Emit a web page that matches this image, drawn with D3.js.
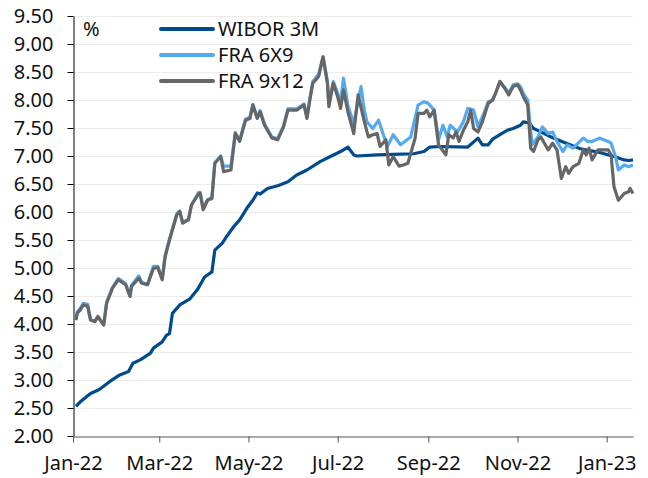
<!DOCTYPE html>
<html>
<head>
<meta charset="utf-8">
<script src="https://cdn.jsdelivr.net/npm/d3@7"></script>
<style>
  body { margin: 0; background: #fff; }
  svg text { font-family: "Noto Sans", sans-serif; fill: #111; }
</style>
</head>
<body>
<div id="container"></div>
<script>
'use strict';

var yTicks = [2.0, 2.5, 3.0, 3.5, 4.0, 4.5, 5.0, 5.5, 6.0, 6.5, 7.0, 7.5, 8.0, 8.5, 9.0, 9.5]
var xTicks = ['2022-01-01', '2022-03-01', '2022-05-01', '2022-07-01', '2022-09-01', '2022-11-01', '2023-01-01']
var seriesNames = ['WIBOR 3M', 'FRA 6X9', 'FRA 9x12']

var wibor3m = [
    ['2022-01-03', 2.53], ['2022-01-06', 2.61], ['2022-01-13', 2.76], ['2022-01-19', 2.83],
    ['2022-01-26', 2.97], ['2022-02-02', 3.09], ['2022-02-08', 3.15], ['2022-02-11', 3.30],
    ['2022-02-16', 3.36], ['2022-02-23', 3.48], ['2022-02-25', 3.57], ['2022-03-03', 3.68],
    ['2022-03-06', 3.80], ['2022-03-08', 3.83], ['2022-03-10', 4.19], ['2022-03-15', 4.34],
    ['2022-03-22', 4.45], ['2022-03-27', 4.61], ['2022-04-01', 4.84], ['2022-04-06', 4.93],
    ['2022-04-08', 5.32], ['2022-04-13', 5.44], ['2022-04-16', 5.56], ['2022-04-21', 5.74],
    ['2022-04-25', 5.86], ['2022-04-30', 6.07], ['2022-05-04', 6.21], ['2022-05-07', 6.34],
    ['2022-05-09', 6.32], ['2022-05-14', 6.42], ['2022-05-21', 6.47], ['2022-05-28', 6.54],
    ['2022-06-03', 6.66], ['2022-06-10', 6.75], ['2022-06-19', 6.90], ['2022-06-26', 6.99],
    ['2022-07-03', 7.08], ['2022-07-08', 7.16], ['2022-07-12', 7.02], ['2022-07-14', 7.00],
    ['2022-07-28', 7.02], ['2022-08-08', 7.03], ['2022-08-22', 7.04], ['2022-08-29', 7.08],
    ['2022-09-02', 7.16], ['2022-09-09', 7.17], ['2022-09-28', 7.16], ['2022-10-05', 7.32],
    ['2022-10-08', 7.20], ['2022-10-12', 7.20], ['2022-10-15', 7.30], ['2022-10-20', 7.38],
    ['2022-10-25', 7.46], ['2022-10-29', 7.49], ['2022-11-03', 7.55], ['2022-11-05', 7.61],
    ['2022-11-09', 7.59], ['2022-11-12', 7.49], ['2022-11-17', 7.43], ['2022-11-24', 7.34],
    ['2022-12-03', 7.24], ['2022-12-14', 7.13], ['2022-12-26', 7.07], ['2023-01-06', 6.99],
    ['2023-01-13', 6.93], ['2023-01-16', 6.92], ['2023-01-19', 6.93]
]

var fra6x9 = [
    ['2022-01-03', 4.09], ['2022-01-04', 4.22], ['2022-01-06', 4.28], ['2022-01-08', 4.37],
    ['2022-01-11', 4.35], ['2022-01-13', 4.08], ['2022-01-16', 4.05], ['2022-01-18', 4.14],
    ['2022-01-22', 3.99], ['2022-01-24', 4.39], ['2022-01-28', 4.65], ['2022-02-01', 4.81],
    ['2022-02-06', 4.72], ['2022-02-09', 4.50], ['2022-02-10', 4.69], ['2022-02-15', 4.86],
    ['2022-02-17', 4.74], ['2022-02-21', 4.71], ['2022-02-25', 5.03], ['2022-02-28', 5.03],
    ['2022-03-03', 4.80], ['2022-03-05', 5.22], ['2022-03-08', 5.52], ['2022-03-13', 5.97],
    ['2022-03-15', 6.02], ['2022-03-17', 5.81], ['2022-03-21', 5.88], ['2022-03-23', 6.13],
    ['2022-03-28', 6.35], ['2022-03-29', 6.35], ['2022-03-31', 6.06], ['2022-04-03', 6.22],
    ['2022-04-06', 6.26], ['2022-04-08', 6.88], ['2022-04-12', 7.00], ['2022-04-14', 6.82],
    ['2022-04-19', 6.82], ['2022-04-22', 7.42], ['2022-04-25', 7.28], ['2022-04-29', 7.66],
    ['2022-05-02', 7.69], ['2022-05-04', 7.92], ['2022-05-07', 7.69], ['2022-05-09', 7.81],
    ['2022-05-12', 7.57], ['2022-05-17', 7.34], ['2022-05-21', 7.31], ['2022-05-25', 7.54],
    ['2022-05-28', 7.84], ['2022-06-03', 7.84], ['2022-06-08', 7.93], ['2022-06-10', 7.70],
    ['2022-06-12', 8.03], ['2022-06-14', 8.33], ['2022-06-18', 8.46], ['2022-06-21', 8.77],
    ['2022-06-24', 8.34], ['2022-06-25', 7.93], ['2022-06-28', 8.33], ['2022-07-01', 8.12],
    ['2022-07-03', 7.95], ['2022-07-05', 8.39], ['2022-07-08', 7.90], ['2022-07-12', 7.58],
    ['2022-07-17', 8.24], ['2022-07-19', 7.85], ['2022-07-21', 7.61], ['2022-07-25', 7.49],
    ['2022-07-29', 7.64], ['2022-08-01', 7.40], ['2022-08-04', 7.17], ['2022-08-08', 7.38],
    ['2022-08-13', 7.20], ['2022-08-20', 7.34], ['2022-08-25', 7.91], ['2022-08-29', 7.97],
    ['2022-09-01', 7.94], ['2022-09-05', 7.82], ['2022-09-08', 7.29], ['2022-09-11', 7.55],
    ['2022-09-14', 7.34], ['2022-09-16', 7.55], ['2022-09-21', 7.43], ['2022-09-25', 7.61],
    ['2022-09-28', 7.85], ['2022-10-02', 7.82], ['2022-10-05', 7.52], ['2022-10-09', 7.76],
    ['2022-10-12', 7.97], ['2022-10-15', 8.00], ['2022-10-17', 8.12], ['2022-10-20', 8.33],
    ['2022-10-24', 8.20], ['2022-10-26', 8.12], ['2022-10-29', 8.27], ['2022-11-01', 8.29],
    ['2022-11-03', 8.24], ['2022-11-05', 8.12], ['2022-11-08', 8.00], ['2022-11-11', 7.20],
    ['2022-11-15', 7.34], ['2022-11-18', 7.52], ['2022-11-22', 7.40], ['2022-11-25', 7.43],
    ['2022-11-28', 7.26], ['2022-12-02', 7.08], ['2022-12-05', 7.20], ['2022-12-09', 7.14],
    ['2022-12-16', 7.32], ['2022-12-19', 7.26], ['2022-12-22', 7.26], ['2022-12-27', 7.32],
    ['2023-01-02', 7.26], ['2023-01-04', 7.23], ['2023-01-07', 6.99], ['2023-01-09', 6.75],
    ['2023-01-13', 6.84], ['2023-01-16', 6.81], ['2023-01-19', 6.84]
]

var fra9x12 = [
    ['2022-01-03', 4.07], ['2022-01-04', 4.20], ['2022-01-06', 4.25], ['2022-01-08', 4.34],
    ['2022-01-11', 4.32], ['2022-01-13', 4.07], ['2022-01-16', 4.04], ['2022-01-18', 4.13],
    ['2022-01-22', 3.98], ['2022-01-24', 4.37], ['2022-01-28', 4.64], ['2022-02-01', 4.79],
    ['2022-02-06', 4.70], ['2022-02-09', 4.49], ['2022-02-10', 4.67], ['2022-02-15', 4.82],
    ['2022-02-17', 4.73], ['2022-02-21', 4.70], ['2022-02-25', 4.99], ['2022-02-28', 5.01],
    ['2022-03-03', 4.79], ['2022-03-05', 5.20], ['2022-03-08', 5.50], ['2022-03-13', 5.95],
    ['2022-03-15', 6.01], ['2022-03-17', 5.80], ['2022-03-21', 5.86], ['2022-03-23', 6.12],
    ['2022-03-28', 6.33], ['2022-03-29', 6.33], ['2022-03-31', 6.04], ['2022-04-03', 6.21],
    ['2022-04-06', 6.24], ['2022-04-08', 6.87], ['2022-04-12', 6.99], ['2022-04-14', 6.72],
    ['2022-04-19', 6.75], ['2022-04-22', 7.40], ['2022-04-25', 7.26], ['2022-04-29', 7.64],
    ['2022-05-02', 7.67], ['2022-05-04', 7.91], ['2022-05-07', 7.67], ['2022-05-09', 7.79],
    ['2022-05-12', 7.55], ['2022-05-17', 7.32], ['2022-05-21', 7.29], ['2022-05-25', 7.52],
    ['2022-05-28', 7.82], ['2022-06-03', 7.82], ['2022-06-08', 7.91], ['2022-06-10', 7.67],
    ['2022-06-12', 8.00], ['2022-06-14', 8.30], ['2022-06-18', 8.42], ['2022-06-21', 8.77],
    ['2022-06-24', 8.30], ['2022-06-25', 7.88], ['2022-06-28', 8.30], ['2022-07-01', 8.06],
    ['2022-07-03', 7.85], ['2022-07-05', 8.18], ['2022-07-08', 7.79], ['2022-07-12', 7.40],
    ['2022-07-15', 8.09], ['2022-07-19', 7.64], ['2022-07-22', 7.34], ['2022-07-25', 7.38],
    ['2022-07-28', 7.40], ['2022-07-30', 7.17], ['2022-08-03', 7.29], ['2022-08-05', 6.84],
    ['2022-08-08', 6.99], ['2022-08-12', 6.82], ['2022-08-15', 6.84], ['2022-08-18', 6.87],
    ['2022-08-20', 7.05], ['2022-08-23', 7.32], ['2022-08-25', 7.76], ['2022-08-29', 7.76],
    ['2022-08-31', 7.82], ['2022-09-02', 7.70], ['2022-09-05', 7.82], ['2022-09-08', 7.20],
    ['2022-09-13', 7.02], ['2022-09-15', 7.38], ['2022-09-18', 7.32], ['2022-09-20', 7.43],
    ['2022-09-22', 7.26], ['2022-09-25', 7.46], ['2022-09-28', 7.61], ['2022-09-30', 7.82],
    ['2022-10-02', 7.49], ['2022-10-05', 7.43], ['2022-10-08', 7.61], ['2022-10-12', 7.94],
    ['2022-10-15', 8.00], ['2022-10-17', 8.12], ['2022-10-20', 8.33], ['2022-10-24', 8.18],
    ['2022-10-26', 8.09], ['2022-10-29', 8.24], ['2022-11-01', 8.27], ['2022-11-03', 8.18],
    ['2022-11-05', 8.06], ['2022-11-08', 7.91], ['2022-11-10', 7.14], ['2022-11-12', 7.08],
    ['2022-11-15', 7.29], ['2022-11-17', 7.34], ['2022-11-20', 7.20], ['2022-11-22', 7.11],
    ['2022-11-25', 7.23], ['2022-11-28', 7.11], ['2022-12-01', 6.60], ['2022-12-04', 6.81],
    ['2022-12-06', 6.69], ['2022-12-09', 6.81], ['2022-12-13', 6.87], ['2022-12-16', 7.11],
    ['2022-12-18', 7.02], ['2022-12-20', 7.14], ['2022-12-22', 6.93], ['2022-12-26', 7.11],
    ['2023-01-02', 7.11], ['2023-01-04', 7.02], ['2023-01-06', 6.45], ['2023-01-09', 6.21],
    ['2023-01-13', 6.33], ['2023-01-16', 6.36], ['2023-01-17', 6.42], ['2023-01-19', 6.33]
]

var colors = ['#004b8d', '#55aaee', '#666666']

var W = 648, H = 478
var margin = {l: 73, r: 15, t: 16, b: 42}

var parse = d3.utcParse('%Y-%m-%d')
var fmtX = d3.utcFormat('%b-%y')

var svg = d3.select('#container')
    .append('svg')
        .attr('width', W)
        .attr('height', H)

var x = d3.scaleUtc()
    .domain([parse('2022-01-01'), parse('2023-01-19')])
    .range([margin.l, W - margin.r])

var y = d3.scaleLinear()
    .domain([2, 9.5])
    .range([H - margin.b, margin.t])

// faint grid
svg.append('g')
    .selectAll('line').data(yTicks.slice(1))
    .enter().append('line')
        .attr('x1', margin.l).attr('x2', W - margin.r)
        .attr('y1', function(d) { return y(d) + 0.5 })
        .attr('y2', function(d) { return y(d) + 0.5 })
        .attr('stroke', '#ececec')
        .attr('stroke-width', 1)

var yAxis = svg.append('g')
    .attr('transform', 'translate(' + (margin.l + 0.5) + ',0)')
    .call(d3.axisLeft(y).tickValues(yTicks).tickFormat(d3.format('.2f')).tickSize(6).tickPadding(14).tickSizeOuter(0))
yAxis.select('.domain').attr('stroke', '#000')
yAxis.selectAll('.tick line').attr('stroke', '#000')
yAxis.selectAll('text').attr('font-size', 20).attr('fill', '#111')

var xAxis = svg.append('g')
    .attr('transform', 'translate(0,' + (H - margin.b + 0.5) + ')')
    .call(d3.axisBottom(x).tickValues(xTicks.map(parse)).tickFormat(fmtX).tickSize(6).tickPadding(13).tickSizeOuter(0))
xAxis.select('.domain').attr('stroke', '#555')
xAxis.selectAll('.tick line').attr('stroke', '#555')
xAxis.selectAll('text').attr('font-size', 20).attr('fill', '#111')

var line = d3.line()
    .x(function(d) { return x(parse(d[0])) })
    .y(function(d) { return y(d[1]) })

var allSeries = [wibor3m, fra6x9, fra9x12]

svg.append('g')
    .selectAll('path').data(allSeries)
    .enter().append('path')
        .attr('d', line)
        .attr('fill', 'none')
        .attr('stroke', function(d, i) { return colors[i] })
        .attr('stroke-width', 3.2)
        .attr('stroke-linejoin', 'round')

svg.append('text')
    .attr('x', 83)
    .attr('y', 36)
    .attr('font-size', 20)
    .text('%')

var legend = svg.append('g').selectAll('g.leg').data(seriesNames)
    .enter().append('g')
        .attr('class', 'leg')
        .attr('transform', function(d, i) { return 'translate(160,' + (29 + i * 26) + ')' })

legend.append('line')
    .attr('x1', 1).attr('x2', 53)
    .attr('stroke', function(d, i) { return colors[i] })
    .attr('stroke-width', 4)
    .attr('stroke-linecap', 'round')

legend.append('text')
    .attr('x', 58)
    .attr('dy', '0.35em')
    .attr('font-size', 20)
    .text(function(d) { return d })
</script>
</body>
</html>
